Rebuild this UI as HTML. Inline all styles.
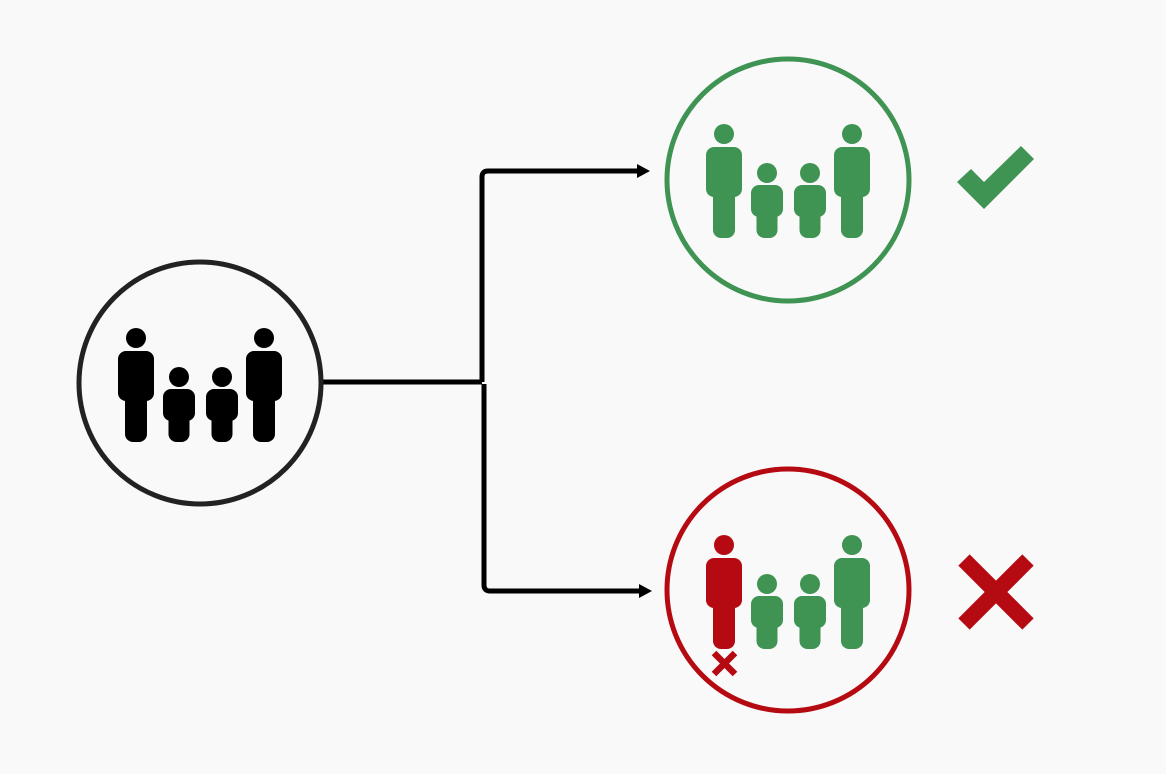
<!DOCTYPE html>
<html><head><style>html,body{margin:0;padding:0;background:#f9f9f9;}svg{display:block}</style></head>
<body>
<svg width="1166" height="774" viewBox="0 0 1166 774" xmlns="http://www.w3.org/2000/svg">
<defs>
<g id="adult"><circle cx="0" cy="0" r="10"/><rect x="-18" y="13" width="36" height="50" rx="8"/><rect x="-11" y="40" width="22" height="64" rx="8"/></g>
<g id="kid"><circle cx="0" cy="39" r="10"/><rect x="-16" y="51" width="32" height="32" rx="8"/><rect x="-10.5" y="68" width="21" height="36" rx="8"/></g>
</defs>
<rect width="1166" height="774" fill="#f9f9f9"/>
<g fill="none" stroke="#000" stroke-width="5">
<path d="M323 382 H482"/>
<path d="M482 382 V177 Q482 171 488 171 H640"/>
<path d="M484 384 V585 Q484 591 490 591 H642"/>
</g>
<polygon points="637,164 650,171 637,178" fill="#000"/>
<polygon points="639,584 652,591 639,598" fill="#000"/>
<circle cx="200" cy="383" r="121" fill="#f9f9f9" stroke="#222" stroke-width="5"/>
<g fill="#000" transform="translate(136,338)"><use href="#adult"/><use href="#kid" x="43"/><use href="#kid" x="86"/><use href="#adult" x="128"/></g>
<circle cx="788" cy="180" r="121" fill="#f9f9f9" stroke="#3f9353" stroke-width="5"/>
<g fill="#3f9353" transform="translate(724,134)"><use href="#adult"/><use href="#kid" x="43"/><use href="#kid" x="86"/><use href="#adult" x="128"/></g>
<circle cx="788" cy="590" r="121" fill="#f9f9f9" stroke="#b50a12" stroke-width="5"/>
<g transform="translate(724,545)"><g fill="#b50a12"><use href="#adult"/></g><g fill="#3f9353"><use href="#kid" x="43"/><use href="#kid" x="86"/><use href="#adult" x="128"/></g></g>
<g stroke="#b50a12" stroke-width="6.5"><path d="M714 653 L735 674 M735 653 L714 674"/></g>
<polygon points="957,182 971,169 984,182 1021,146 1034,159 984,209" fill="#3f9353"/>
<g stroke="#b50a12" stroke-width="16"><path d="M964 560 L1028 624 M1028 560 L964 624"/></g>
</svg>
</body></html>
